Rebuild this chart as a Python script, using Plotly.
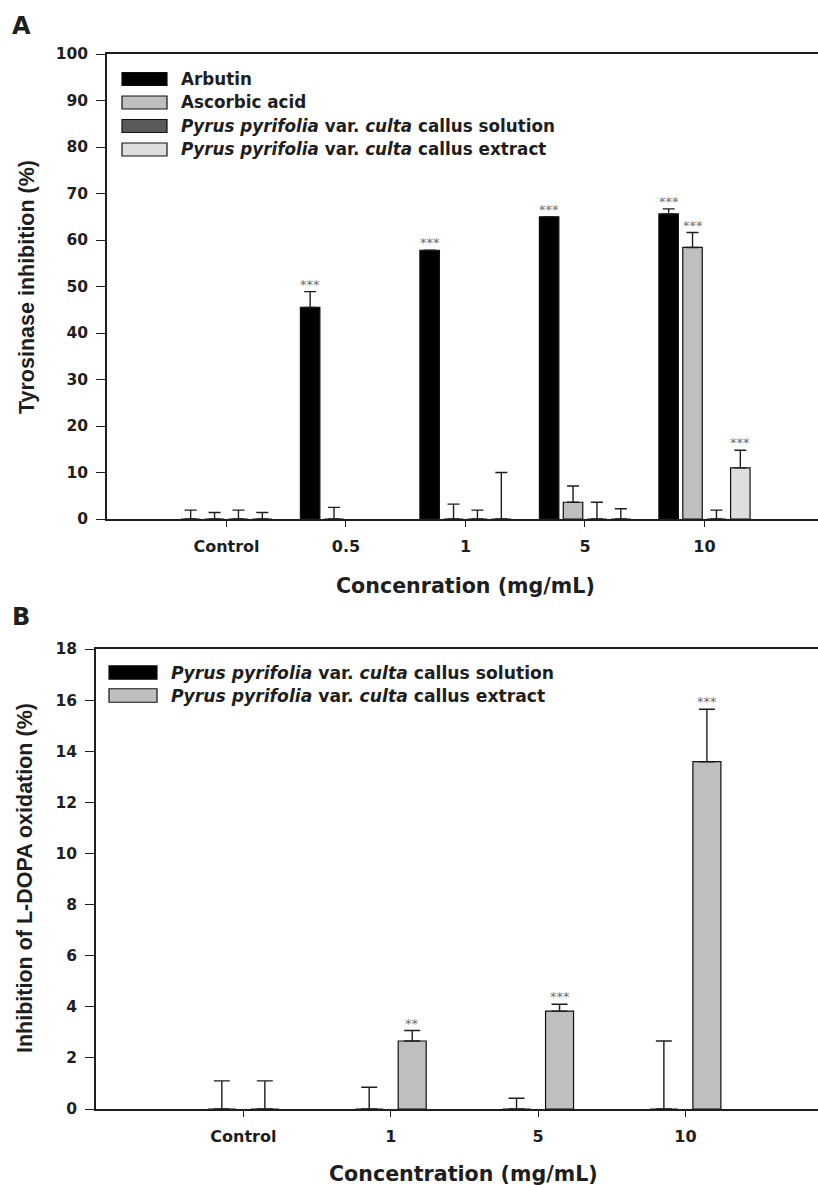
import plotly.graph_objects as go

W, H = 818, 1185

# ---------------- Panel A data ----------------
cats_a = ["Control", "0.5", "1", "5", "10"]
names_a = [
    "Arbutin",
    "Ascorbic acid",
    "<i>Pyrus pyrifolia</i> var. <i>culta</i> callus solution",
    "<i>Pyrus pyrifolia</i> var. <i>culta</i> callus extract",
]
arbutin = [0, 45.5, 57.8, 65.0, 65.6]
arbutin_err = [1.9, 3.4, 0, 0, 1.1]
ascorbic = [0, 0, 0, 3.6, 58.4]
ascorbic_err = [1.4, 2.5, 3.2, 3.5, 3.2]
solution_a = [0, None, 0, 0, 0]
solution_a_err = [1.9, 0, 1.9, 3.6, 1.9]
extract_a = [0, None, 0, 0, 11.0]
extract_a_err = [1.4, 0, 10.0, 2.2, 3.8]
sig_arbutin = ["", "***", "***", "***", "***"]
sig_ascorbic = ["", "", "", "", "***"]
sig_solution_a = ["", "", "", "", ""]
sig_extract_a = ["", "", "", "", "***"]

# ---------------- Panel B data ----------------
cats_b = ["Control", "1", "5", "10"]
names_b = [
    "<i>Pyrus pyrifolia</i> var. <i>culta</i> callus solution",
    "<i>Pyrus pyrifolia</i> var. <i>culta</i> callus extract",
]
solution_b = [0, 0, 0, 0]
solution_b_err = [1.1, 0.85, 0.42, 2.66]
extract_b = [0, 2.66, 3.83, 13.59]
extract_b_err = [1.1, 0.41, 0.27, 2.05]
sig_solution_b = ["", "", "", ""]
sig_extract_b = ["", "**", "***", "***"]

# ---------------- styles ----------------
colors_a = ["#000000", "#bfbfbf", "#5a5a5a", "#dedede"]
colors_b = ["#000000", "#bfbfbf"]
ink = "#1e1e1e"
hfont = "DejaVu Sans"
vfont = "Liberation Sans, Arial"

fig = go.Figure()


def add_panel(cats, vals, errs, sigs, names, colors, xa, ya, slot, bw, capw):
    n = len(vals)
    for i in range(n):
        center = (i - (n - 1) / 2) * slot
        fig.add_trace(go.Bar(
            x=cats, y=vals[i], name=names[i],
            xaxis=xa, yaxis=ya,
            width=bw, offset=center - bw / 2,
            marker=dict(color=colors[i], line=dict(color="#111111", width=1.2)),
            error_y=dict(type="data", symmetric=False, array=errs[i],
                         arrayminus=[0] * len(cats), color=ink,
                         thickness=1.4, width=capw),
            showlegend=False,
        ))
        for j, c in enumerate(cats):
            if sigs[i][j] and vals[i][j] is not None:
                fig.add_annotation(
                    x=j + center, y=vals[i][j] + errs[i][j],
                    xref=xa, yref=ya, text=sigs[i][j], showarrow=False,
                    yanchor="bottom", xanchor="center", yshift=-2,
                    font=dict(family=hfont, size=13, color="#707070"),
                )


add_panel(cats_a,
          [arbutin, ascorbic, solution_a, extract_a],
          [arbutin_err, ascorbic_err, solution_a_err, extract_a_err],
          [sig_arbutin, sig_ascorbic, sig_solution_a, sig_extract_a],
          names_a, colors_a, "x", "y", 0.2, 0.163, 6)
add_panel(cats_b,
          [solution_b, extract_b],
          [solution_b_err, extract_b_err],
          [sig_solution_b, sig_extract_b],
          names_b, colors_b, "x2", "y2", 0.292, 0.19, 8)

tickfont = dict(family=hfont, size=16, color=ink, weight="bold")
common_x = dict(type="category", showline=True, linecolor=ink, linewidth=1.5,
                mirror=True, ticks="outside", ticklen=6, tickwidth=1.3,
                tickcolor=ink, tickfont=tickfont, showgrid=False,
                zeroline=False, automargin=False, fixedrange=True,
                ticklabelstandoff=6)
common_y = dict(showline=True, linecolor=ink, linewidth=1.5, mirror=False,
                ticks="outside", ticklen=9, tickwidth=1.3, tickcolor=ink,
                tickfont=dict(family=hfont, size=15.5, color=ink, weight="bold"),
                showgrid=False, zeroline=False, automargin=False,
                ticklabelstandoff=5, fixedrange=True)

fig.update_layout(
    width=W, height=H,
    margin=dict(l=0, r=0, t=0, b=0),
    paper_bgcolor="white", plot_bgcolor="white",
    barmode="overlay",
    xaxis=dict(common_x, domain=[107 / W, 1], anchor="y",
               categoryorder="array", categoryarray=cats_a,
               range=[-1, 4.95]),
    yaxis=dict(common_y, domain=[1 - 519 / H, 1 - 54 / H], anchor="x",
               range=[0, 100], dtick=10),
    xaxis2=dict(common_x, domain=[96 / W, 1], anchor="y2",
                categoryorder="array", categoryarray=cats_b,
                range=[-1, 3.90]),
    yaxis2=dict(common_y, domain=[1 - 1109 / H, 1 - 649 / H], anchor="x2",
                range=[0, 18], dtick=2),
)


def px(x):
    return x / W


def py(y):
    return 1 - y / H


def text(x, y, s, size, family=hfont, bold=True, angle=0, xanchor="center",
         color=ink):
    fig.add_annotation(
        x=px(x), y=py(y), xref="paper", yref="paper", text=s,
        showarrow=False, xanchor=xanchor, yanchor="middle", textangle=angle,
        font=dict(family=family, size=size, color=color,
                  weight="bold" if bold else "normal"),
    )


# panel letters
text(21, 26, "A", 24)
text(21, 617, "B", 24)

# axis titles
text(465, 586, "Concenration (mg/mL)", 20.6)
text(463, 1174, "Concentration (mg/mL)", 20.6)
text(27, 287, "Tyrosinase inhibition (%)", 21.5, family=vfont, angle=-90)
text(25, 878, "Inhibition of L-DOPA oxidation (%)", 21.5, family=vfont, angle=-90)


# legends (drawn swatches + labels)
def legend(x0, x1, tx, rows, h, names, colors, size):
    for yc, nm, col in zip(rows, names, colors):
        fig.add_shape(type="rect", xref="paper", yref="paper",
                      x0=px(x0), x1=px(x1), y0=py(yc + h / 2), y1=py(yc - h / 2),
                      fillcolor=col, line=dict(color="#111111", width=1.2))
        text(tx, yc, nm, size, xanchor="left")


legend(122, 167, 179, [79, 102.5, 126, 149.5], 13, names_a, colors_a, 16.8)
legend(109, 157, 169, [672.5, 695.5], 13.5, names_b, colors_b, 17.2)

fig.write_html(
    "out.html",
    config={"displayModeBar": False, "staticPlot": False},
    post_script="document.body.style.margin='0';"
                "document.body.style.padding='0';"
                "document.body.style.overflow='hidden';",
)
